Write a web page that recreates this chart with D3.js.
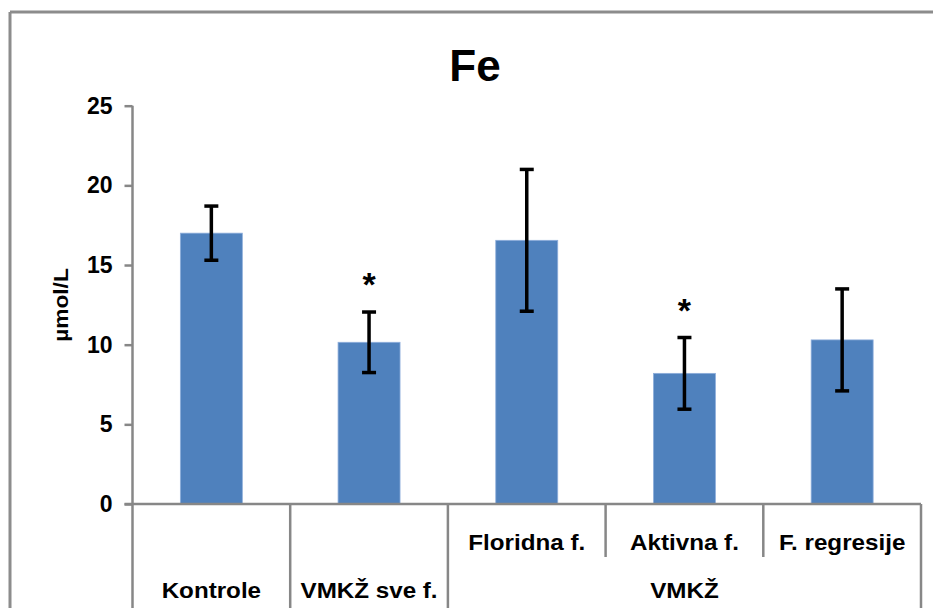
<!DOCTYPE html>
<html>
<head>
<meta charset="utf-8">
<script src="https://cdn.jsdelivr.net/npm/d3@7"></script>
<style>
  html, body { margin: 0; padding: 0; background: #fff; }
  svg { display: block; }
  text { font-family: "Liberation Sans", Arial, sans-serif; font-weight: bold; fill: #000; }
</style>
</head>
<body>
<script>
// Serum iron (Fe), mean ± error per group
const categories = ["Kontrole", "VMKŽ sve f.", "Floridna f.", "Aktivna f.", "F. regresije"];
const means      = [17.0, 10.15, 16.55, 8.2, 10.3];
const errors     = [1.7, 1.9, 4.45, 2.25, 3.2];
const significant = [false, true, false, true, false];

// Two-level category axis: sub-labels on the first row, group labels below
const subLabels   = ["", "", "Floridna f.", "Aktivna f.", "F. regresije"];
const groupLabels = ["Kontrole", "VMKŽ sve f.", "VMKŽ"];
const groupSpans  = [[0, 0], [1, 1], [2, 4]];

const yTicks = [0, 5, 10, 15, 20, 25];
const title = "Fe";
const yTitle = "µmol/L";

const W = 933, H = 608;
const plot = { left: 132.5, right: 921, top: 105.7, bottom: 504 };
const axisGrey = "#878787";

const svg = d3.select("body").append("svg")
  .attr("width", W).attr("height", H);

// Chart-area frame (only its top and left edges fall inside the page)
svg.append("line").attr("x1", 10).attr("x2", W).attr("y1", 12).attr("y2", 12)
  .attr("stroke", "#8c8c8c").attr("stroke-width", 3);
svg.append("line").attr("x1", 10).attr("x2", 10).attr("y1", 12).attr("y2", H)
  .attr("stroke", "#8c8c8c").attr("stroke-width", 3);

const y = d3.scaleLinear().domain([0, 25]).range([plot.bottom, plot.top]);
const xCat = d3.scaleBand().domain(d3.range(categories.length))
  .range([plot.left, plot.right]).padding(0);
const x = d3.scaleBand().domain(d3.range(categories.length))
  .range([plot.left, plot.right]).paddingInner(0.607).paddingOuter(0.3035);

// Title
svg.append("text").attr("x", 475).attr("y", 81)
  .attr("text-anchor", "middle").style("font-size", "44px").text(title);

// Y axis
const yAxis = svg.append("g").attr("transform", `translate(${plot.left},0)`)
  .call(d3.axisLeft(y).tickValues(yTicks).tickSize(8).tickPadding(12).tickFormat(d3.format("d")));
yAxis.select(".domain").remove();
yAxis.selectAll(".tick line").attr("stroke", axisGrey).attr("stroke-width", 2.5);
yAxis.selectAll(".tick text").style("font-size", "23px")
  .style("font-family", "'Liberation Sans', Arial, sans-serif").attr("fill", "#000");
svg.append("line").attr("x1", plot.left).attr("x2", plot.left)
  .attr("y1", plot.top).attr("y2", H)
  .attr("stroke", axisGrey).attr("stroke-width", 2.5);

// Y title
svg.append("text")
  .attr("transform", "translate(68,305) rotate(-90) scale(1.08,1)")
  .attr("text-anchor", "middle").style("font-size", "21px").text(yTitle);

// Bars
svg.append("g").selectAll("rect").data(means).join("rect")
  .attr("x", (d, i) => x(i))
  .attr("width", x.bandwidth())
  .attr("y", d => y(d))
  .attr("height", d => y(0) - y(d))
  .attr("fill", "#4f81bd")
  .attr("stroke", "#8eaedb").attr("stroke-width", 0.8);

// Error bars
const eb = svg.append("g").attr("stroke", "#000").attr("stroke-width", 3.5);
means.forEach((m, i) => {
  const cx = x(i) + x.bandwidth() / 2;
  const hi = y(m + errors[i]), lo = y(m - errors[i]);
  eb.append("line").attr("x1", cx).attr("x2", cx).attr("y1", hi).attr("y2", lo);
  eb.append("line").attr("x1", cx - 7).attr("x2", cx + 7).attr("y1", hi).attr("y2", hi);
  eb.append("line").attr("x1", cx - 7).attr("x2", cx + 7).attr("y1", lo).attr("y2", lo);
});

// Significance markers above the error bars
svg.append("g").selectAll("text").data(means.map((m, i) => ({ m, i })).filter(d => significant[d.i]))
  .join("text")
  .attr("x", d => x(d.i) + x.bandwidth() / 2)
  .attr("y", d => y(d.m + errors[d.i]) - 36 + 20)
  .attr("text-anchor", "middle").style("font-size", "34px").text("*");

// X axis line
svg.append("line").attr("x1", plot.left - 8).attr("x2", plot.right)
  .attr("y1", plot.bottom).attr("y2", plot.bottom)
  .attr("stroke", axisGrey).attr("stroke-width", 2.5);

// Category dividers: group boundaries run to the bottom, inner ones stop under the first row
const groupBounds = new Set(groupSpans.flatMap(s => [s[0], s[1] + 1]));
for (let k = 1; k <= categories.length; k++) {
  const bx = k === categories.length ? plot.right : xCat(k);
  svg.append("line").attr("x1", bx).attr("x2", bx)
    .attr("y1", plot.bottom).attr("y2", groupBounds.has(k) ? H : 557)
    .attr("stroke", axisGrey).attr("stroke-width", 2.5);
}

// Category labels
const labelScaleX = 1.1;
function label(cx, by, txt) {
  svg.append("text")
    .attr("transform", `translate(${cx},${by}) scale(${labelScaleX},1)`)
    .attr("text-anchor", "middle").style("font-size", "22px").text(txt);
}
subLabels.forEach((t, i) => {
  if (t) label(xCat(i) + xCat.bandwidth() / 2, 550, t);
});
groupLabels.forEach((t, g) => {
  const [a, b] = groupSpans[g];
  const cx = (xCat(a) + xCat(b) + xCat.bandwidth()) / 2;
  label(cx, 598, t);
});
</script>
</body>
</html>
